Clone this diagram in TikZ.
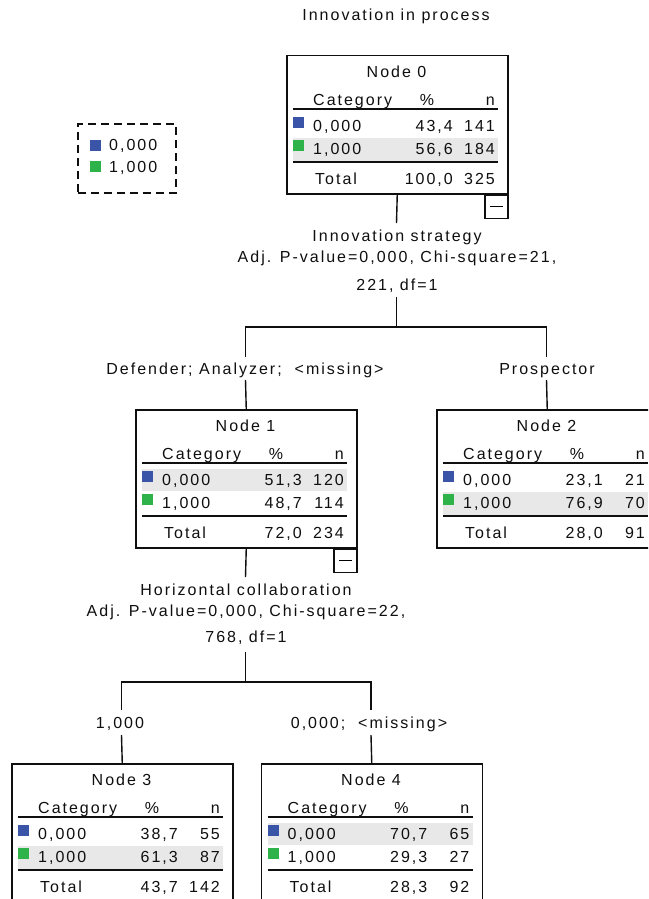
\documentclass[tikz,border=0pt]{standalone}
\usepackage{fontspec}
\setmainfont{Liberation Sans}[LetterSpace=12.5]
\definecolor{spssblue}{RGB}{58,84,168}
\definecolor{spssgreen}{RGB}{46,178,74}
\definecolor{shadegray}{RGB}{232,232,232}
\definecolor{ink}{RGB}{15,15,15}
\tikzset{
  txt/.style={font=\fontsize{16}{19}\selectfont, text=ink, inner sep=0pt},
  treebox/.style={draw=ink, line width=1.5pt, minimum width=221pt, minimum height=138pt, inner sep=0pt, fill=white},
  conn/.style={draw=ink, line width=1.4pt},
  hrule/.style={draw=ink, line width=1.2pt},
  trule/.style={draw=ink, line width=2pt},
  togglebox/.style={draw=ink, line width=1.4pt, minimum width=23pt, minimum height=23pt, inner sep=0pt, fill=white},
  legendbox/.style={draw=ink, line width=1.5pt, dash pattern=on 8pt off 5pt, minimum width=98pt, minimum height=69pt, inner sep=0pt},
}
\newcommand{\ctree}[9]{%
  \node[treebox, anchor=north west] (#2) at (0,0) {};
  \fill[shadegray] (7,#1) rectangle ++(205,22.5);
  \node[txt, anchor=base] (#2-t) at (110.5,22.8) {#3};
  \node[txt, anchor=base west] (#2-hc) at (27,50.8) {Category};
  \node[txt, anchor=base] (#2-hp) at (141,50.8) {\%};
  \node[txt, anchor=base east] (#2-hn) at (209,50.8) {n};
  \path[hrule] (7,54) -- (212,54);
  \fill[spssblue] (7,62) rectangle ++(11,11);
  \node[txt, anchor=base west] (#2-c1) at (27,76.8) {0,000};
  \node[txt, anchor=base east] (#2-p1) at (167,76.8) {#4};
  \node[txt, anchor=base east] (#2-n1) at (209,76.8) {#5};
  \fill[spssgreen] (7,85) rectangle ++(11,11);
  \node[txt, anchor=base west] (#2-c2) at (27,99.8) {1,000};
  \node[txt, anchor=base east] (#2-p2) at (167,99.8) {#6};
  \node[txt, anchor=base east] (#2-n2) at (209,99.8) {#7};
  \path[trule] (7,107) -- (212,107);
  \node[txt, anchor=base west] (#2-tl) at (29,129.3) {Total};
  \node[txt, anchor=base east] (#2-tp) at (167,129.3) {#8};
  \node[txt, anchor=base east] (#2-tn) at (209,129.3) {#9};
}
\begin{document}
\begin{tikzpicture}[x=1pt,y=-1pt]
\useasboundingbox (0,0) rectangle (648,899);
\clip (0,0) rectangle (648,899);
\fill[white] (0,0) rectangle (648,899);

\node[txt, anchor=base] (title) at (396,20.8) {Innovation in process};

% legend
\node[legendbox, anchor=north west] (legend) at (77,123) {};
\fill[spssblue] (90,140) rectangle ++(11,11);
\node[txt, anchor=base west] (leg1) at (109,150.8) {0,000};
\fill[spssgreen] (90,161) rectangle ++(11,11);
\node[txt, anchor=base west] (leg2) at (109,172.8) {1,000};

% tree nodes
\begin{scope}[shift={(286,55)}]
  \ctree{83}{n0}{Node 0}{43,4}{141}{56,6}{184}{100,0}{325}
\end{scope}
\begin{scope}[shift={(135,409)}]
  \ctree{59.5}{n1}{Node 1}{51,3}{120}{48,7}{114}{72,0}{234}
\end{scope}
\begin{scope}[shift={(436,409)}]
  \ctree{83}{n2}{Node 2}{23,1}{21}{76,9}{70}{28,0}{91}
\end{scope}
\begin{scope}[shift={(11,763)}]
  \ctree{83}{n3}{Node 3}{38,7}{55}{61,3}{87}{43,7}{142}
\end{scope}
\begin{scope}[shift={(260.5,763)}]
  \ctree{59.5}{n4}{Node 4}{70,7}{65}{29,3}{27}{28,3}{92}
\end{scope}

% toggles
\node[togglebox, anchor=north east] (n0-tog) at (n0.south east) {\rule{13pt}{1.3pt}};
\node[togglebox, anchor=north east] (n1-tog) at (n1.south east) {\rule{13pt}{1.3pt}};

% split of node 0
\node[txt, anchor=base] (s0a) at (397,241.8) {Innovation strategy};
\node[txt, anchor=base] (s0b) at (397,262.8) {Adj. P-value=0,000, Chi-square=21,};
\node[txt, anchor=base] (s0c) at (397,290.8) {221, df=1};
\coordinate (s0top) at (396.5,223);
\coordinate (s0bot) at (396.5,297);
\coordinate (j0) at (396.5,327);
\coordinate (h1) at (245.5,327);
\coordinate (h2) at (546.5,327);
\coordinate (b1a) at (245.5,357);
\coordinate (b2a) at (546.5,357);
\coordinate (b1b) at (245.5,380);
\coordinate (b2b) at (546.5,380);
\draw[conn] (n0.south) -- (s0top);
\draw[conn] (s0bot) -- (j0);
\draw[conn] (b1a) -- (h1) -- (h2) -- (b2a);
\node[txt, anchor=base] (e1) at (245,374.8) {Defender; Analyzer;\ \ <missing>};
\node[txt, anchor=base] (e2) at (547,374.8) {Prospector};
\draw[conn] (b1b) -- (n1.north);
\draw[conn] (b2b) -- (n2.north);

% split of node 1
\node[txt, anchor=base] (s1a) at (246,595.8) {Horizontal collaboration};
\node[txt, anchor=base] (s1b) at (246,616.8) {Adj. P-value=0,000, Chi-square=22,};
\node[txt, anchor=base] (s1c) at (246,642.8) {768, df=1};
\coordinate (s1top) at (245.5,577);
\coordinate (s1bot) at (245.5,652);
\coordinate (j1) at (245.5,682);
\coordinate (h3) at (121.5,682);
\coordinate (h4) at (371,682);
\coordinate (b3a) at (121.5,710);
\coordinate (b4a) at (371,710);
\coordinate (b3b) at (121.5,735);
\coordinate (b4b) at (371,735);
\draw[conn] (n1.south) -- (s1top);
\draw[conn] (s1bot) -- (j1);
\draw[conn] (b3a) -- (h3) -- (h4) -- (b4a);
\node[txt, anchor=base] (e3) at (120,728.8) {1,000};
\node[txt, anchor=base] (e4) at (369,728.8) {0,000;\ \ <missing>};
\draw[conn] (b3b) -- (n3.north);
\draw[conn] (b4b) -- (n4.north);
\end{tikzpicture}
\end{document}
